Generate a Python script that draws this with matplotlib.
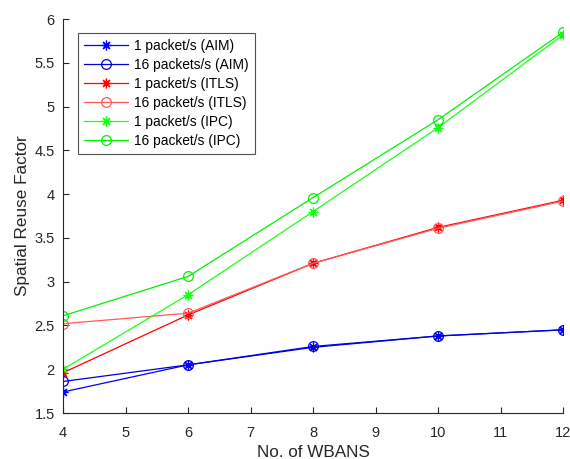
import matplotlib
matplotlib.use('Agg')
import matplotlib.pyplot as plt

plt.rcParams['font.family'] = ['Liberation Sans', 'DejaVu Sans']

# Data
wbans = [4, 6, 8, 10, 12]
aim_1 = [1.74, 2.05, 2.25, 2.38, 2.45]
aim_16 = [1.86, 2.05, 2.26, 2.38, 2.45]
itls_1 = [1.96, 2.62, 3.21, 3.62, 3.93]
itls_16 = [2.52, 2.64, 3.21, 3.61, 3.92]
ipc_1 = [2.00, 2.85, 3.80, 4.76, 5.82]
ipc_16 = [2.61, 3.06, 3.96, 4.85, 5.85]

fig = plt.figure(figsize=(5.7, 4.59), dpi=100)
ax = fig.add_axes([0.1105, 0.1002, 0.8775, 0.8584])

axis_col = (0.15, 0.15, 0.15)
asterisk = (8, 2, 0)  # MATLAB-style '*' (plus + cross)

common = dict(lw=0.9, ms=7, mew=0.9)
ax.plot(wbans, aim_1, '-', marker=asterisk, color=(0, 0, 1), label='1 packet/s (AIM)', **common)
ax.plot(wbans, aim_16, '-o', color=(0, 0, 0.85), mfc='none', label='16 packets/s (AIM)', **common)
ax.plot(wbans, itls_1, '-', marker=asterisk, color=(1, 0, 0), label='1 packet/s (ITLS)', **common)
ax.plot(wbans, itls_16, '-o', color=(1, 0.35, 0.35), mfc='none', label='16 packet/s (ITLS)', **common)
ax.plot(wbans, ipc_1, '-', marker=asterisk, color=(0.1, 1, 0.1), label='1 packet/s (IPC)', **common)
ax.plot(wbans, ipc_16, '-o', color=(0, 0.95, 0), mfc='none', label='16 packet/s (IPC)', **common)

ax.set_xlim(4, 12)
ax.set_ylim(1.5, 6)
ax.set_xticks(range(4, 13))
ax.set_yticks([1.5, 2, 2.5, 3, 3.5, 4, 4.5, 5, 5.5, 6])
ax.set_yticklabels(['1.5', '2', '2.5', '3', '3.5', '4', '4.5', '5', '5.5', '6'])

for side in ['top', 'right']:
    ax.spines[side].set_visible(False)
for side in ['left', 'bottom']:
    ax.spines[side].set_color(axis_col)
    ax.spines[side].set_linewidth(0.8)
ax.tick_params(direction='in', length=4, width=0.8, colors=axis_col, labelsize=10.5)
ax.tick_params(axis='x', pad=9)
ax.tick_params(axis='y', pad=6)

ax.set_xlabel('No. of WBANS', fontsize=12.3, color=axis_col, labelpad=4)
ax.set_ylabel('Spatial Reuse Factor', fontsize=12.3, color=axis_col, labelpad=3)

leg = ax.legend(loc='upper left', bbox_to_anchor=(0.03, 0.965), fontsize=9.9,
                frameon=True, fancybox=False, edgecolor=axis_col, handlelength=3.2,
                borderpad=0.45, labelspacing=0.36, handletextpad=0.45, borderaxespad=0)
leg.get_frame().set_linewidth(0.8)

fig.savefig('out.png', dpi=100)
